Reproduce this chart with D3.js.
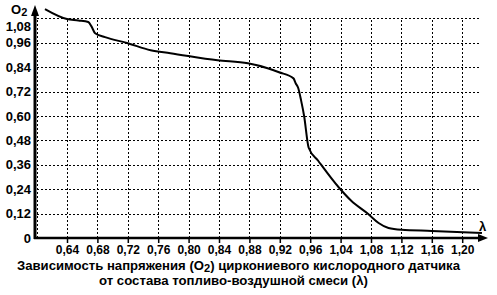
<!DOCTYPE html>
<html>
<head>
<meta charset="utf-8">
<script src="https://cdn.jsdelivr.net/npm/d3@7"></script>
<style>
  body { margin: 0; background: #fff; }
  svg { display: block; font-family: "Liberation Sans", Arial, sans-serif; font-weight: bold; }
</style>
</head>
<body>
<div id="chart"></div>
<script>
// lambda tick labels (axis is evenly spaced, 1,00 is skipped)
const xTicks = [0.64, 0.68, 0.72, 0.76, 0.80, 0.84, 0.88, 0.92, 0.96, 1.04, 1.08, 1.12, 1.16, 1.20]
const yTicks = [0, 0.12, 0.24, 0.36, 0.48, 0.60, 0.72, 0.84, 0.96, 1.08]

// sensor curve
const lambda = [0.611, 0.640, 0.655, 0.668, 0.672, 0.677, 0.690, 0.720, 0.750, 0.776,
  0.838, 0.878, 0.904, 0.919, 0.938, 0.941, 0.944, 0.948, 0.952, 0.958,
  0.981, 1.036, 1.054, 1.076, 1.090, 1.103, 1.120, 1.160, 1.226]
const o2 = [1.126, 1.077, 1.070, 1.062, 1.042, 1.007, 0.988, 0.958, 0.923, 0.909,
  0.874, 0.859, 0.835, 0.815, 0.785, 0.760, 0.740, 0.677, 0.600, 0.444,
  0.380, 0.247, 0.183, 0.119, 0.074, 0.049, 0.040, 0.035, 0.025]

const title1 = ["Зависимость напряжения (O", "2", ") циркониевого кислородного датчика"]
const title2 = "от состава топливо-воздушной смеси (λ)"

const width = 497
const height = 295
const x0 = 36.6
const step = 30.4
const yZero = 238

// piecewise scale: equal spacing per tick, 0.96 -> 1.04 is one step
const x = d3.scaleLinear()
  .domain([0.60, 0.96, 1.04, 1.20])
  .range([x0, x0 + 9 * step, x0 + 10 * step, x0 + 14 * step])

const y = d3.scaleLinear()
  .domain([0, 1.08])
  .range([yZero, yZero - 9 * 24.4])

const fmt = d => d === 0 ? "0" : d3.format(".2f")(d).replace(".", ",")
const snap = v => Math.round(v) + 0.5

const svg = d3.select("#chart")
  .append("svg")
  .attr("width", width)
  .attr("height", height)

// grid
const grid = svg.append("g")
  .attr("stroke", "#000")
  .attr("stroke-width", 1.4)
  .attr("stroke-dasharray", "2,2")
  .attr("shape-rendering", "crispEdges")

grid.selectAll("line.h")
  .data(yTicks.filter(d => d > 0))
  .join("line")
  .attr("class", "h")
  .attr("x1", x(0.60))
  .attr("x2", 481)
  .attr("y1", d => snap(y(d)))
  .attr("y2", d => snap(y(d)))

grid.selectAll("line.v")
  .data([0.60, ...xTicks])
  .join("line")
  .attr("class", "v")
  .attr("x1", d => snap(x(d)))
  .attr("x2", d => snap(x(d)))
  .attr("y1", yZero)
  .attr("y2", y(1.08))

// x axis labels and ticks
const xAxis = svg.append("g")
  .attr("transform", `translate(0, ${yZero})`)
  .call(d3.axisBottom(x).tickValues(xTicks).tickFormat(fmt).tickSize(5).tickPadding(2))

xAxis.select(".domain").remove()
xAxis.selectAll("line").attr("stroke", "#000").attr("stroke-width", 1.5)
xAxis.selectAll("text")
  .attr("fill", "#000")
  .style("font-size", "12px")
  .style("font-family", "'Liberation Sans', Arial, sans-serif")
  .style("font-weight", "bold")

// y axis labels
const yAxis = svg.append("g")
  .attr("transform", `translate(35, 0)`)
  .call(d3.axisLeft(y).tickValues(yTicks).tickFormat(fmt).tickSize(0).tickPadding(4))

yAxis.select(".domain").remove()
yAxis.selectAll("text")
  .attr("fill", "#000")
  .style("font-size", "13px")
  .style("font-family", "'Liberation Sans', Arial, sans-serif")
  .style("font-weight", "bold")
yAxis.selectAll(".tick")
  .filter(d => d === 1.08)
  .select("text")
  .attr("dy", "0.9em")

// curve
svg.append("path")
  .datum(d3.zip(lambda, o2))
  .attr("fill", "none")
  .attr("stroke", "#000")
  .attr("stroke-width", 2)
  .attr("stroke-linejoin", "round")
  .attr("d", d3.line().x(d => x(d[0])).y(d => y(d[1])).curve(d3.curveMonotoneX))

// axis lines with arrows
const axes = svg.append("g").attr("fill", "#000")
axes.append("line")
  .attr("x1", 35).attr("x2", 35)
  .attr("y1", yZero + 1).attr("y2", 14)
  .attr("stroke", "#000").attr("stroke-width", 3)
axes.append("path").attr("d", "M35,5 L31,16 L39,16 Z")

axes.append("line")
  .attr("x1", 34).attr("x2", 481)
  .attr("y1", yZero).attr("y2", yZero)
  .attr("stroke", "#000").attr("stroke-width", 2.5)
axes.append("path").attr("d", `M488,${yZero} L478,${yZero - 4} L478,${yZero + 4} Z`)

// axis names
const o2Label = svg.append("text")
  .attr("x", 11)
  .attr("y", 14)
  .style("font-size", "13px")
o2Label.append("tspan").text("O")
o2Label.append("tspan").attr("dy", 2).style("font-size", "11px").text("2")

svg.append("text")
  .attr("x", 479)
  .attr("y", 231)
  .style("font-size", "13px")
  .text("λ")

// caption
const cap1 = svg.append("text")
  .attr("x", 17)
  .attr("y", 270)
  .attr("textLength", 443)
  .attr("lengthAdjust", "spacingAndGlyphs")
  .style("font-size", "13px")
cap1.append("tspan").text(title1[0])
cap1.append("tspan").attr("dy", 2).style("font-size", "11px").text(title1[1])
cap1.append("tspan").attr("dy", -2).text(title1[2])

svg.append("text")
  .attr("x", 99)
  .attr("y", 285)
  .attr("textLength", 269)
  .attr("lengthAdjust", "spacingAndGlyphs")
  .style("font-size", "13px")
  .text(title2)
</script>
</body>
</html>
